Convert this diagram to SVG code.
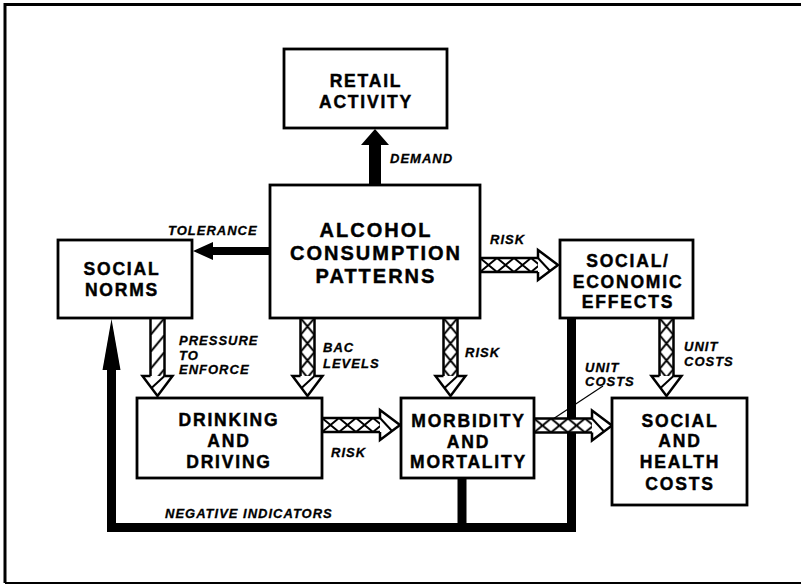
<svg xmlns="http://www.w3.org/2000/svg" width="801" height="585" viewBox="0 0 801 585">
<style>
.box{fill:#fff;stroke:#000;stroke-width:2.8}
.nt{font-family:"Liberation Sans",Arial,Helvetica,sans-serif;font-weight:bold;font-size:17.5px;letter-spacing:1.8px;text-anchor:middle;fill:#000;stroke:#000;stroke-width:0.45}
.big{font-size:20px;letter-spacing:2px}
.lb{font-family:"Liberation Sans",Arial,Helvetica,sans-serif;font-weight:bold;font-style:italic;font-size:13px;letter-spacing:1px;fill:#000;stroke:#000;stroke-width:0.3}
.edge{stroke:#000;stroke-width:2.5;fill:none}
.solid{fill:#000;stroke:none}
.bar{stroke:#000;fill:none;stroke-linejoin:miter;stroke-linecap:butt}
</style>
<defs>
  <!-- cross hatching for the open arrows; tile height equals the shaft width -->
  <pattern id="xh" patternUnits="userSpaceOnUse" x="0" y="-7" width="17" height="14">
    <path d="M0,0 L17,14 M0,14 L17,0" stroke="#000" stroke-width="2"/>
  </pattern>
  <!-- single diagonal hatching -->
  <pattern id="sh" patternUnits="userSpaceOnUse" x="0" y="-7" width="17" height="14">
    <path d="M0,0 L17,14" stroke="#000" stroke-width="2"/>
  </pattern>
  <!-- open hatched arrow, drawn pointing along +x, 78 long -->
  <g id="hatchArrow">
    <rect x="0" y="-7" width="58" height="14" fill="#fff"/>
    <rect x="0" y="-7" width="58" height="14" fill="url(#xh)"/>
    <path class="edge" d="M0,-7 H58 M0,7 H58"/>
    <path class="edge" d="M58,-7 V-15 L78,0 L58,15 V7" fill="#fff"/>
    <path d="M58,-7 L70,6" stroke="#000" stroke-width="2"/>
  </g>
  <g id="slashArrow">
    <rect x="0" y="-7" width="58" height="14" fill="#fff"/>
    <rect x="0" y="-7" width="58" height="14" fill="url(#sh)"/>
    <path class="edge" d="M0,-7 H58 M0,7 H58"/>
    <path class="edge" d="M58,-7 V-15 L78,0 L58,15 V7" fill="#fff"/>
    <path d="M58,-7 L70,6" stroke="#000" stroke-width="2"/>
  </g>
</defs>

<rect width="801" height="585" fill="#fff"/>

<!-- outer frame -->
<path d="M801,4.5 H5 V583" stroke="#000" stroke-width="3" fill="none"/>
<path d="M5,583 H801" stroke="#000" stroke-width="2" fill="none"/>

<g id="connectors">
  <!-- negative indicators feedback loop -->
  <path class="bar" stroke-width="9" d="M571.5,318 V527.5 H111.5 V366"/>
  <path class="bar" stroke-width="9" d="M462,478 V528"/>
  <polygon class="solid" points="102.5,370 111.5,319 120.5,370"/>

  <!-- demand -->
  <polygon class="solid" points="369,186 369,145 361,145 375,129 389,145 381,145 381,186"/>
  <!-- tolerance -->
  <polygon class="solid" points="271,247 213,247 213,242 193,251 213,260 213,255 271,255"/>

  <!-- hatched arrows -->
  <use href="#hatchArrow" transform="translate(480,265)"/>
  <use href="#hatchArrow" transform="translate(322,425)"/>
  <use href="#hatchArrow" transform="translate(534,425.5)"/>
  <use href="#hatchArrow" transform="translate(307.5,318) rotate(90)"/>
  <use href="#hatchArrow" transform="translate(450.5,318) rotate(90)"/>
  <use href="#hatchArrow" transform="translate(666.5,318) rotate(90)"/>
  <use href="#slashArrow" transform="translate(157.5,318) rotate(90)"/>

  <!-- leader for lower unit costs -->
  <path d="M603,386 L553,419" stroke="#000" stroke-width="1.2"/>

  <!-- connector labels -->
  <text class="lb" x="390" y="163">DEMAND</text>
  <text class="lb" x="168" y="235">TOLERANCE</text>
  <text class="lb" x="490" y="244">RISK</text>
  <text class="lb" x="179" y="345">PRESSURE</text>
  <text class="lb" x="179" y="359.5">TO</text>
  <text class="lb" x="179" y="374">ENFORCE</text>
  <text class="lb" x="323" y="352">BAC</text>
  <text class="lb" x="323" y="368">LEVELS</text>
  <text class="lb" x="465" y="357">RISK</text>
  <text class="lb" x="331" y="457">RISK</text>
  <text class="lb" x="684" y="351">UNIT</text>
  <text class="lb" x="684" y="366">COSTS</text>
  <text class="lb" x="585" y="372">UNIT</text>
  <text class="lb" x="585" y="386">COSTS</text>
  <text class="lb" x="165" y="518">NEGATIVE INDICATORS</text>
</g>

<g id="retail-activity">
  <rect class="box" x="284" y="49" width="163" height="79"/>
  <text class="nt" x="366" y="87">RETAIL</text>
  <text class="nt" x="366" y="108">ACTIVITY</text>
</g>

<g id="alcohol-consumption-patterns">
  <rect class="box" x="270" y="185" width="210" height="133"/>
  <text class="nt big" x="376" y="237">ALCOHOL</text>
  <text class="nt big" x="376" y="260">CONSUMPTION</text>
  <text class="nt big" x="376" y="283">PATTERNS</text>
</g>

<g id="social-norms">
  <rect class="box" x="58" y="240" width="134" height="78"/>
  <text class="nt" x="122" y="275">SOCIAL</text>
  <text class="nt" x="122" y="296">NORMS</text>
</g>

<g id="social-economic-effects">
  <rect class="box" x="560" y="240" width="133" height="78"/>
  <text class="nt" x="628" y="267">SOCIAL/</text>
  <text class="nt" x="628" y="288">ECONOMIC</text>
  <text class="nt" x="628" y="308">EFFECTS</text>
</g>

<g id="drinking-and-driving">
  <rect class="box" x="137" y="398" width="185" height="80"/>
  <text class="nt" x="229" y="426">DRINKING</text>
  <text class="nt" x="229" y="447">AND</text>
  <text class="nt" x="229" y="468">DRIVING</text>
</g>

<g id="morbidity-and-mortality">
  <rect class="box" x="401" y="398" width="133" height="80"/>
  <text class="nt" x="468.5" y="427">MORBIDITY</text>
  <text class="nt" x="468.5" y="448">AND</text>
  <text class="nt" x="468.5" y="468">MORTALITY</text>
</g>

<g id="social-and-health-costs">
  <rect class="box" x="612" y="398" width="135" height="107"/>
  <text class="nt" x="680" y="427">SOCIAL</text>
  <text class="nt" x="680" y="447">AND</text>
  <text class="nt" x="680" y="468">HEALTH</text>
  <text class="nt" x="680" y="490">COSTS</text>
</g>
</svg>
